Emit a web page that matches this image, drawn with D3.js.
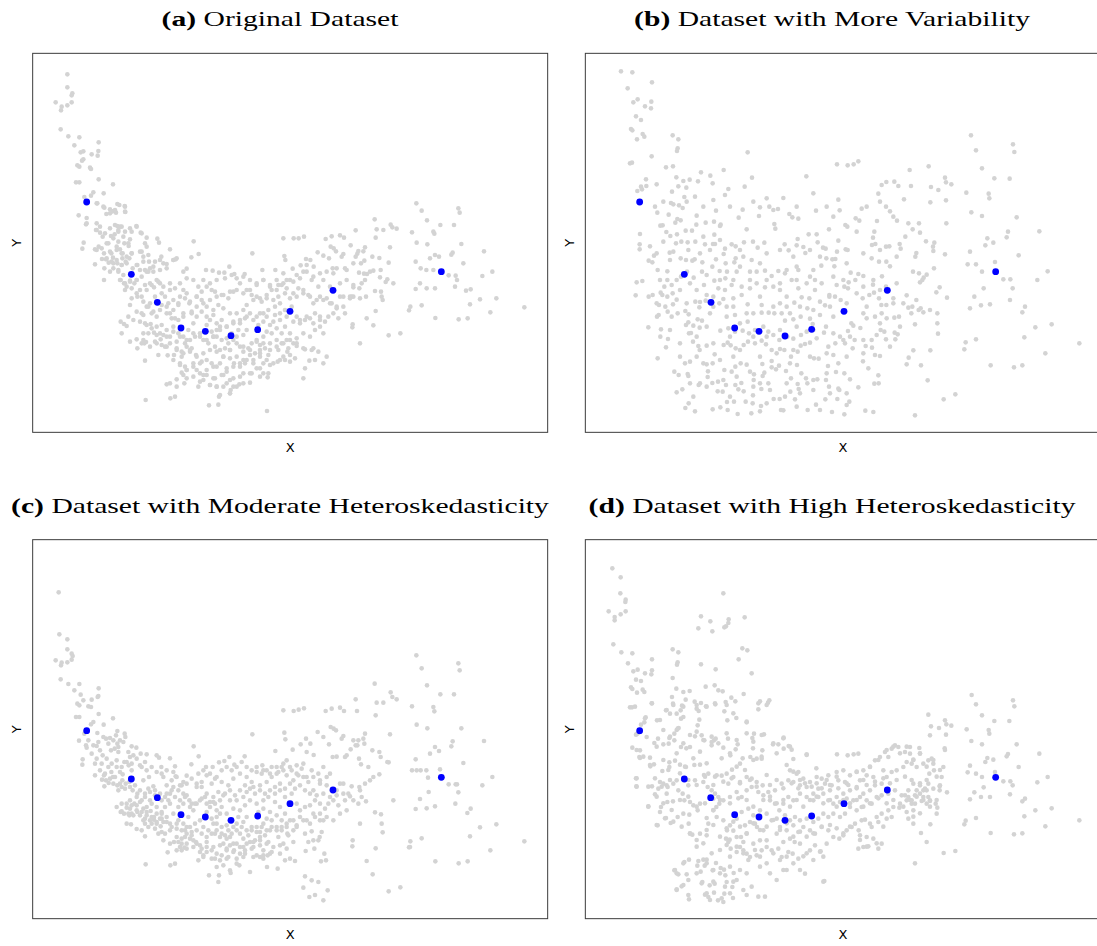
<!DOCTYPE html>
<html>
<head>
<meta charset="utf-8">
<script src="https://cdn.jsdelivr.net/npm/d3@7"></script>
<style>
  body { margin: 0; background: #fff; }
  svg { display: block; }
</style>
</head>
<body>
<svg id="chart" width="1097" height="946"></svg>
<script>
// Panel titles: bold tag + description
const titleTags = ["(a)", "(b)", "(c)", "(d)"];
const titleTexts = ["Original Dataset", "Dataset with More Variability",
  "Dataset with Moderate Heteroskedasticity", "Dataset with High Heteroskedasticity"];
const axisLabels = ["X", "Y"];

// Observations per dataset as [x, y]; y grows downward on the plotted axis
const grayA = [[112,73],[112,112],[127,130],[125,136],[77,157],[95,170],[112,166],[125,157],[93,181],[92,238],[115,259],[148,262],[206,277],[133,286],[205,303],[160,304],[152,307],[185,313],[203,317],[160,328],[156,332],[142,346],[148,350],[180,353],[183,357],[206,388],[138,397],[148,397],[249,403],[221,430],[190,427],[183,437],[163,441],[202,460],[223,473],[262,462],[284,468],[146,496],[170,504],[168,523],[200,520],[286,486],[229,492],[258,488],[248,484],[240,478],[270,530],[262,528],[319,528],[305,545],[332,548],[265,545],[198,540],[210,548],[218,560],[243,558],[254,553],[300,568],[350,563],[382,566],[387,578],[345,580],[491,574],[161,578],[157,596],[206,590],[195,598],[235,580],[283,580],[296,588],[260,590],[270,598],[278,610],[330,605],[305,610],[222,610],[244,610],[249,623],[216,627],[228,628],[236,638],[195,643],[223,655],[240,665],[222,690],[250,640],[262,640],[277,625],[287,635],[275,645],[298,625],[265,660],[272,690],[282,700],[290,710],[300,692],[308,655],[322,645],[340,620],[357,635],[330,660],[320,690],[313,700],[345,660],[355,665],[370,650],[394,620],[420,598],[400,640],[410,642],[430,630],[437,628],[484,622],[506,612],[470,656],[460,665],[528,660],[548,662],[567,668],[583,668],[598,650],[613,672],[644,672],[667,610],[697,660],[736,660],[760,565],[791,565],[806,565],[822,560],[763,618],[766,630],[788,656],[812,646],[828,627],[830,645],[841,630],[851,650],[863,607],[880,617],[887,567],[905,559],[930,556],[942,563],[977,541],[1034,508],[1040,538],[1060,540],[1082,524],[1087,532],[1100,536],[1159,460],[1175,482],[1191,511],[1210,545],[1213,551],[1231,525],[1272,525],[1285,475],[1289,488],[1146,547],[1160,578],[1192,583],[1037,563],[1080,592],[1048,624],[1027,620],[1076,638],[1005,592],[985,603],[982,611],[962,586],[940,612],[935,620],[911,595],[902,590],[918,604],[897,625],[920,655],[908,655],[945,655],[950,660],[970,640],[977,620],[993,640],[1000,604],[1003,632],[987,668],[1002,671],[1011,672],[1020,665],[1030,662],[1052,660],[1050,682],[1072,688],[1067,696],[1090,700],[1005,690],[995,700],[988,715],[970,712],[965,740],[960,745],[990,745],[1008,740],[1035,723],[1037,783],[1053,725],[1055,740],[1058,750],[1010,805],[1030,826],[968,823],[967,832],[990,880],[1076,856],[1111,850],[1141,770],[1137,781],[1157,717],[1157,635],[1172,655],[1189,660],[1170,700],[1190,715],[1215,715],[1200,625],[1215,615],[1227,620],[1210,660],[1256,676],[1268,608],[1264,614],[1294,582],[1300,640],[1277,677],[1281,690],[1275,710],[1308,722],[1322,718],[1320,763],[1350,748],[1357,678],[1387,665],[1362,604],[1381,787],[1399,745],[1313,805],[1286,808],[1216,804],[1175,766],[1483,772],
[272,815],[282,822],[275,850],[290,828],[300,875],[320,868],[322,895],[335,880],[343,880],[348,876],[345,932],[347,1050],[385,915],[413,916],[410,1003],[421,1045],[435,1040],[440,988],[463,1000],[470,985],[455,968],[470,960],[500,960],[510,970],[505,1010],[540,1005],[537,1066],[565,1064],[567,1040],[600,1030],[602,1020],[628,1003],[660,998],[711,1083],[713,982],[700,970],[690,955],[720,945],[743,935],[765,930],[780,935],[795,925],[820,985],[825,955],[838,932],[855,930],[865,905],[880,940],[890,920],[845,900],[825,898],[800,888],[772,905],[760,920],[745,900],[715,915],[690,910],[670,930],[645,940],[630,950],[612,940],[600,925],[580,920],[560,950],[545,940],[530,930],[515,935],[498,915],[480,905],[455,920],[440,900],[432,915],[420,880],[405,890],[392,868],[380,855],[372,848],[362,822],[350,825],[335,790],[320,785],[300,765],[305,745],[322,740],[330,720],[345,705],[360,700],[372,712],[380,690],[390,700],[395,730],[405,740],[420,720],[415,760],[410,790],[425,805],[430,780],[445,760],[450,740],[460,720],[470,730],[478,760],[485,790],[490,820],[475,840],[460,860],[445,850],[430,830],[410,840],[400,855],[395,825],[380,800],[365,790],[350,770],[340,795],[360,760],[375,740],[395,765],[420,860],[440,875],[465,880],[480,870],[495,860],[510,850],[520,870],[535,880],[550,860],[555,890],[570,900],[585,895],[595,880],[610,870],[620,860],[630,890],[640,905],[655,895],[665,880],[680,870],[690,885],[700,860],[710,845],[725,850],[740,835],[755,850],[765,830],[780,850],[770,870],[755,880],[740,870],[720,880],[705,895],[690,900],[675,910],[660,915],[640,930],[620,920],[600,900],[575,870],[560,860],[545,845],[530,825],[540,810],[560,820],[575,810],[590,830],[610,815],[630,820],[645,805],[660,790],[680,800],[700,790],[715,780],[735,770],[750,760],[765,780],[785,770],[800,800],[810,820],[825,810],[840,805],[855,790],[870,800],[885,815],[895,800],[910,790],[920,775],[905,760],[890,745],[870,740],[850,760],[835,735],[820,720],[805,715],[790,730],[770,715],[760,700],[745,705],[725,720],[710,735],[690,745],[670,750],[650,765],[640,780],[620,790],[600,790],[580,775],[565,765],[550,780],[530,770],[515,750],[500,740],[505,710],[520,690],[540,700],[555,725],[575,735],[595,745],[610,725],[630,700],[650,720],[665,735],[680,705],[700,690],[720,710],[740,690],[760,670],[780,690],[800,675],[820,665],[845,690],[865,710],[880,690],[900,710],[930,740],[940,770],[945,790],[925,805],[880,850],[870,830],[855,840],[840,860],[820,850],[800,865],[790,880],[775,895],[590,965],[575,975],[555,985],[530,975],[520,990],[590,1000],[610,985],[640,970],[665,970],[680,955],[700,940],[620,1010],[580,1010],[560,1010],[450,940],[465,950],[490,940],[485,895],[470,890],[455,905],[395,885],[375,875],[340,850],[355,850],[310,810],[295,800],[330,815],[345,820],[365,835],[445,810],[460,800],[500,800],[515,785],[530,800],[550,795],[735,795],[750,810],[720,825],[700,815],[685,825],[650,840],[640,855],[625,840],[605,850],[590,865],[560,840],[570,830],
[200,460],[220,470],[240,490],[255,480],[268,465],[285,470],[285,485],[170,520],[200,540],[210,530],[225,550],[240,535],[255,525],[265,540],[275,530],[285,545],[300,535],[320,530],[335,550],[250,565],[265,575],[280,560],[295,580],[230,580],[215,595],[200,600],[240,605],[260,600],[275,610],[290,620],[305,610],[335,605],[350,590],[355,615],[230,625],[245,635],[260,630],[275,645],[290,640],[320,645],[340,635],[360,655],[375,635],[390,630],[250,655],[265,665],[280,675],[270,690],[285,700],[300,695],[320,690],[335,680],[350,665],[370,665],[390,660],[410,655],[430,630],[440,625],[285,720],[305,715],[320,730],[335,740],[350,720],[365,705],[385,695],[400,710],[420,700],[435,715],[450,700],[470,685],[490,690],[340,755],[355,770],[370,785],[390,780],[410,770],[430,750],[445,765],[465,745],[480,755],[500,740],[515,725],[530,710],[545,720],[560,690],[585,685],[605,675],[620,685],[640,680],[660,690],[680,700],[700,690],[720,705],[740,720],[755,705],[770,690],[790,695],[810,685],[830,665],[850,680],[870,670],[890,665],[910,670],[930,700],[950,690],[970,705],[970,740],[420,790],[435,805],[460,790],[485,785],[500,770],[520,760],[540,750],[560,740],[580,735],[600,725],[620,720],[640,730],[660,720],[680,740],[695,755],[710,745],[730,750],[745,740],[765,730],[780,745],[800,740],[820,730],[840,740],[860,750],[880,750],[900,760],[920,770],[940,740],[960,740],[380,830],[390,850],[410,860],[430,845],[450,860],[470,870],[490,850],[510,860],[530,870],[550,860],[570,840],[590,830],[610,820],[630,810],[650,800],[670,810],[690,790],[710,800],[730,815],[750,790],[770,800],[790,815],[810,810],[830,800],[850,820],[870,810],[340,870],[360,890],[380,880],[410,890],[440,895],[460,910],[480,900],[500,920],[520,910],[540,900],[560,905],[580,920],[600,900],[620,880],[640,890],[660,900],[680,875],[700,880],[720,900],[740,890],[760,880],[780,870],[800,880],[820,895],[850,895],[430,930],[450,945],[470,960],[490,950],[510,940],[530,960],[550,950],[570,940],[590,955],[610,950],[630,940],[650,930],[670,940],[690,920],[710,930],[730,940],[750,930],[780,915],[460,975],[490,980],[520,975],[550,985],[580,975],[600,990],[630,980],[660,970],[690,980],[715,970],[420,1000],[440,1010],[510,995],[540,1005],[560,1010],[610,1010],[640,1000],[570,1035],[600,1030]];

const grayB = [[123,64],[157,67],[216,97],[143,115],[160,157],[173,148],[195,169],[214,155],[213,175],[168,199],[183,210],[153,237],[157,241],[188,252],[193,260],[171,268],[278,256],[295,268],[293,295],[291,303],[503,307],[215,319],[150,340],[156,338],[258,352],[279,349],[198,388],[183,410],[199,408],[186,418],[172,423],[230,403],[289,382],[310,393],[329,389],[354,394],[363,367],[391,377],[398,400],[431,360],[516,383],[679,379],[771,343],[803,346],[821,343],[835,334],[989,360],[1046,349],[1173,256],[1188,301],[1299,283],[1303,306],[1206,355],[1243,385],[1289,386],[1159,428],[1226,431],[1228,445],[1174,487],[1206,498],[1310,502],[1378,544],[1284,545],[1280,562],[1222,565],[1240,578],[1216,586],[1170,605],[1163,643],[1188,643],[1245,636],[1206,665],[1316,616],[1403,664],[1372,690],[1270,688],[1291,688],[1298,715],[1211,715],[1183,740],[1230,763],[1203,766],[1170,775],[1290,750],[1335,770],[1327,787],[1366,832],[1415,823],[1333,862],[1396,910],[1498,880],[1188,868],[1157,877],[1153,898],[1232,946],[1302,952],[1327,946],[1126,1033],[1091,1048],[1043,991],[1023,946],[980,943],[986,923],[1000,901],[1051,901],[1005,1096],[1099,520],[1095,383],[1098,397],[1114,403],[1075,420],[1053,411],[1051,457],[1098,451],[1095,613],[1062,655],[1060,603],[1059,590],[1063,578],[1038,574],[1009,609],[1006,620],[999,665],[1017,670],[1020,697],[1040,674],[1031,683],[1027,690],[1079,712],[1069,727],[1101,743],[1050,780],[1072,790],[1072,820],[1074,851],[1022,775],[1016,780],[1030,787],[1009,750],[997,770],[985,773],[994,790],[1005,823],[980,736],[970,760],[1017,520],[1020,548],[985,520],[998,538],[993,408],[972,448],[955,408],[943,395],[919,396],[905,405],[895,431],[930,484],[918,470],[951,512],[940,500],[928,589],[918,590],[962,596],[976,560],[959,582],[891,513],[883,545],[879,563],[886,582],[876,585],[845,476],[838,512],[827,505],[830,545],[802,530],[796,525],[775,449],[779,481],[747,538],[775,572],[771,605],[797,598],[803,600],[766,627],[739,625],[757,628],[763,649],[724,647],[729,593],[737,596],[710,553],[686,553],[713,577],[708,482],[653,567],[670,591],[676,609],[628,492],[637,502],[655,506],[610,444],[568,470],[580,480],[594,477],[540,472],[537,498],[488,479],[476,503],[500,538],[494,410],[445,417],[435,435],[408,482],[422,524],[420,528],[402,515],[377,518],[350,497],[349,524],[336,542],[317,542],[302,511],[286,518],[292,507],[266,494],[280,463],[273,459],[297,466],[308,474],[313,441],[319,413],[295,409],[276,425],[248,526],[241,527],[232,488],[259,546],[271,558],[291,553],[304,575],[323,577],[346,575],[370,560],[375,583],[403,554],[399,582],[405,582],[435,596],[455,583],[467,589],[492,577],[519,575],[533,593],[553,578],[583,522],[586,536],[614,583],[626,601],[650,586],[180,552],[179,583],[179,598],[210,589],[222,617],[206,632],[217,637],[233,660],[262,664],[269,608],[270,630],[280,605],[288,580],[302,625],[318,630],[344,628],[337,632],[367,637],[366,665],[397,650],[408,628],[431,612],[463,637],[467,625],[437,640],[419,663],[441,665],[470,665],[436,685],[403,692],[380,675],[372,705],[341,683],[330,700],[321,665],[303,680],[290,690],[275,705],[262,690],[253,710],[242,728],[218,735],[206,740],[187,693],[170,697],[167,736],[205,832],[233,925],[258,892],[264,867],[241,860],[243,838],[231,800],[236,795],[256,770],[263,785],[237,765],[247,735],[262,740],[278,730],[290,749],[293,790],[279,763],[316,783],[326,793],[325,817],[340,827],[318,825],[353,808],[366,812],[358,772],[360,756],[346,755],[377,752],[390,790],[380,830],[359,833],[333,849],[327,850],[339,875],[355,888],[359,900],[380,887],[404,913],[398,940],[380,943],[370,940],[384,964],[383,981],[356,1005],[360,1000],[397,999],[413,1024],[421,1072],[398,1078],[345,1084],[316,1074],[326,1060],[307,1018],[290,1027],[283,965],[296,975],[323,972],[315,940],[330,935],[325,978],[441,1056],[443,1080],[473,1092],[462,1055],[497,1055],[514,1090],[540,1084],[543,1068],[518,1060],[491,1024],[519,1036],[544,1017],[540,1000],[565,1000],[581,1047],[603,1080],[610,1081],[599,1047],[615,1040],[631,1025],[645,1048],[683,1080],[708,1064],[736,1048],[756,1086],[793,1093],[800,1065],[808,1055],[772,1047],[778,1020],[775,1016],[747,1010],[738,990],[712,988],[682,1000],[656,1017],[653,1002],[633,985],[618,963],[588,958],[575,952],[553,968],[548,978],[521,990],[484,999],[475,1018],[466,1005],[438,1005],[428,1025],[414,995],[433,960],[455,965],[466,950],[482,940],[500,944],[510,965],[522,973],[547,942],[575,933],[597,947],[630,940],[651,945],[664,970],[678,985],[700,990],[740,970],[768,966],[793,970],[810,988],[835,1012],[856,1082],[880,1086],[896,1000],[883,1001],[895,976],[865,955],[849,934],[857,888],[876,893],[885,915],[900,918],[875,870],[890,855],[902,840],[913,845],[944,848],[953,853],[946,868],[918,868],[860,805],[885,800],[905,790],[920,805],[943,803],[957,800],[940,760],[940,745],[919,765],[904,765],[897,745],[882,728],[868,735],[860,770],[848,745],[830,730],[826,690],[806,697],[793,710],[804,715],[812,668],[835,672],[850,678],[875,625],[897,635],[919,635],[930,649],[880,690],[879,704],[906,679],[918,710],[841,834],[820,827],[814,820],[804,843],[790,870],[780,860],[766,880],[745,890],[760,915],[795,880],[818,895],[824,870],[775,940],[744,948],[716,926],[702,925],[690,878],[675,882],[662,887],[653,905],[633,920],[613,900],[600,897],[575,900],[558,883],[545,872],[525,880],[504,875],[491,885],[480,900],[467,895],[452,886],[443,878],[431,885],[421,842],[445,835],[465,845],[480,820],[503,815],[520,790],[545,788],[566,788],[580,770],[600,760],[583,790],[605,790],[630,790],[615,812],[640,808],[662,800],[682,775],[690,806],[698,822],[720,795],[720,755],[735,766],[748,740],[765,740],[782,750],[760,800],[738,830],[732,848],[710,865],[680,845],[663,855],[640,866],[622,860],[598,870],[580,855],[565,845],[550,830],[525,840],[507,850],[488,842],[465,795],[440,770],[430,747],[460,745],[485,735],[510,715],[530,700],[555,712],[580,710],[600,720],[620,740],[643,758],[665,742],[688,745],[705,720],[680,700],[655,715],[635,690],[615,670],[595,663],[575,678],[555,662],[530,665],[510,690],[485,710],[455,705],[435,720],[415,715],[400,740],[380,735],[418,760],[460,770],[503,763],[545,765],[620,660],[650,650],[690,680],[705,690],[725,700],[748,735],[770,705],[655,660],[540,640],[515,630],[490,620],[480,650],
[225,470],[250,455],[320,455],[345,440],[370,470],[400,450],[450,470],[520,455],[560,445],[650,470],[700,430],[740,470],[760,500],[860,470],[900,455],[250,575],[230,610],[325,600],[360,610],[390,600],[420,570],[480,600],[560,610],[600,600],[640,620],[690,600],[720,620],[800,640],[850,610],[900,600],[950,620],[240,690],[300,720],[350,720],[420,690],[460,690],[510,665],[560,690],[600,700],[650,690],[700,660],[760,680],[790,690],[850,710],[900,720],[950,700],[230,760],[275,800],[320,760],[400,770],[440,800],[500,790],[540,740],[620,770],[660,770],[700,780],[750,770],[800,760],[850,790],[900,820],[960,830],[270,840],[300,880],[350,860],[400,880],[450,860],[520,860],[560,860],[600,840],[650,830],[700,840],[760,850],[810,860],[850,870],[930,890],[300,920],[350,920],[420,930],[460,920],[540,920],[590,910],[640,900],[690,920],[740,910],[800,920],[850,910],[330,1000],[380,1010],[430,990],[470,980],[520,1010],[570,1020],[620,1000],[660,1030],[700,1020],[750,1030],[800,1030],[340,1040],[450,1040],[560,1060],[650,1070],[720,1080]];

const grayC = [[86,166],[88,292],[112,307],[112,337],[125,350],[128,357],[77,370],[95,377],[93,385],[112,376],[125,368],[92,427],[115,441],[148,441],[206,454],[133,460],[205,477],[152,473],[160,490],[185,488],[203,480],[142,500],[148,505],[175,508],[183,510],[206,531],[138,540],[148,540],[249,544],[221,563],[190,555],[183,562],[163,590],[147,611],[202,588],[228,605],[262,582],[284,590],[286,600],[258,595],[240,603],[168,625],[170,632],[158,667],[157,683],[195,680],[200,627],[270,610],[262,620],[305,628],[319,632],[332,650],[265,645],[210,640],[218,655],[243,640],[254,635],[300,660],[350,652],[380,655],[387,662],[345,675],[491,628],[506,658],[420,664],[435,688],[195,715],[223,748],[235,690],[283,675],[296,685],[260,690],[270,705],[278,712],[330,685],[305,700],[222,715],[244,705],[249,720],[216,728],[228,730],[236,738],[250,740],[262,745],[277,730],[287,740],[275,750],[298,735],[265,760],[272,825],[282,830],[290,812],[300,790],[308,760],[322,770],[340,730],[357,720],[330,795],[320,780],[313,800],[345,780],[355,755],[370,748],[394,690],[400,720],[410,745],[430,705],[437,718],[484,682],[470,716],[460,735],[528,690],[548,690],[567,676],[583,672],[598,660],[613,683],[644,658],[667,592],[697,685],[736,642],[760,520],[791,522],[806,518],[822,514],[763,587],[766,607],[788,638],[812,622],[828,605],[830,645],[841,620],[851,654],[863,585],[880,600],[887,522],[905,515],[930,512],[942,522],[981,522],[977,487],[1034,440],[1040,497],[1060,497],[1082,466],[1087,480],[1100,487],[1159,355],[1175,394],[1191,445],[1210,510],[1213,523],[1231,472],[1272,472],[1285,379],[1289,400],[1146,508],[1160,563],[1192,574],[1037,535],[1080,592],[1048,645],[1027,640],[1076,676],[1005,590],[985,610],[982,625],[962,637],[940,597],[935,605],[911,575],[902,570],[918,580],[897,622],[920,659],[908,660],[945,660],[950,655],[970,610],[977,625],[993,682],[1000,605],[1003,620],[987,665],[1015,690],[1020,730],[1030,720],[1048,712],[1052,660],[1072,675],[1090,790],[1005,740],[995,780],[988,750],[965,748],[960,778],[990,760],[1008,793],[1035,826],[1037,934],[1053,832],[1055,860],[1058,886],[1010,972],[1028,1012],[968,910],[967,928],[990,860],[1076,1063],[1111,1051],[1141,913],[1137,931],[1157,816],[1157,667],[1172,700],[1189,700],[1170,786],[1190,814],[1215,808],[1200,650],[1215,630],[1227,642],[1194,722],[1196,765],[1256,742],[1268,613],[1264,628],[1294,574],[1300,678],[1277,742],[1281,742],[1276,800],[1285,766],[1312,828],[1322,815],[1320,898],[1350,871],[1357,745],[1387,720],[1362,612],[1381,940],[1399,862],[1313,973],[1286,979],[1216,973],[1175,904],[1483,913],[1146,700],[1160,700],[1140,930],[1230,697],
[275,823],[298,835],[290,860],[303,862],[320,876],[335,880],[345,898],[347,982],[385,890],[413,946],[421,985],[435,980],[440,940],[463,932],[455,940],[470,935],[500,920],[510,945],[505,970],[537,1015],[565,1035],[567,1015],[600,1000],[602,1008],[628,985],[660,1005],[711,990],[713,955],[700,965],[690,960],[720,950],[743,995],[765,970],[780,965],[795,972],[820,1052],[825,1018],[838,1080],[845,1030],[855,1074],[865,1035],[880,1090],[893,1060],[873,973],[888,970],[853,935],[827,942],[835,915],[850,910],[869,900],[875,885],[883,950],[865,910],[845,883],[825,890],[800,870],[772,890],[760,920],[745,900],[715,915],[690,910],[670,930],[645,940],[630,950],[612,940],[600,925],[580,920],[560,950],[545,940],[530,930],[515,935],[498,915],[480,905],[455,920],[440,900],[432,915],[420,880],[405,890],[392,868],[380,855],[372,848],[362,822],[350,825],[335,790],[320,805],[300,815],[305,830],[322,825],[345,845],[360,850],[372,840],[380,860],[390,845],[395,830],[405,810],[420,800],[415,790],[410,770],[425,760],[430,750],[445,760],[450,745],[460,770],[470,775],[478,790],[485,800],[490,820],[475,840],[460,860],[445,850],[430,830],[410,840],[400,855],[395,825],[380,810],[365,800],[350,810],[340,815],[360,790],[375,775],[395,790],[420,860],[440,875],[465,880],[480,870],[495,860],[510,850],[520,870],[535,880],[550,860],[555,890],[570,900],[585,895],[595,880],[610,870],[620,860],[630,890],[640,905],[655,895],[665,880],[680,870],[690,885],[700,860],[710,845],[725,850],[740,835],[755,850],[765,830],[780,850],[770,870],[755,880],[740,870],[720,880],[705,895],[690,900],[675,910],[660,915],[640,930],[620,920],[600,900],[575,870],[560,860],[545,845],[530,825],[540,810],[560,820],[575,810],[590,830],[610,815],[630,820],[645,805],[660,790],[680,800],[700,790],[715,780],[735,770],[750,760],[765,780],[785,770],[800,800],[810,820],[825,810],[840,805],[855,790],[870,800],[885,815],[895,800],[910,790],[920,775],[905,760],[890,745],[870,740],[850,760],[835,735],[820,720],[805,715],[790,730],[770,715],[760,700],[745,705],[725,720],[710,735],[690,745],[670,750],[650,765],[640,780],[620,790],[600,790],[580,775],[565,765],[550,780],[530,770],[515,750],[500,740],[505,710],[520,700],[540,710],[555,725],[575,735],[595,745],[610,725],[630,710],[650,720],[665,735],[680,705],[700,700],[720,710],[740,690],[760,680],[780,690],[800,685],[820,680],[845,700],[865,710],[880,690],[900,710],[930,740],[940,770],[945,790],[925,805],[880,850],[870,830],[855,840],[840,860],[820,850],[800,865],[790,880],[775,895],[590,965],[575,955],[555,965],[530,945],[520,960],[590,940],[610,945],[640,960],[665,935],[680,955],[700,940],[620,980],[580,985],[560,990],[450,930],[465,900],[490,910],[485,895],[470,890],[455,905],[395,885],[375,875],[340,850],[355,870],[310,835],[295,830],[330,835],[345,860],[365,860],[445,810],[460,800],[500,800],[515,785],[530,800],[550,795],[735,795],[750,810],[720,825],[700,815],[685,825],[650,840],[640,855],[625,840],[605,850],[590,865],[560,840],[570,830],
[175,610],[190,625],[205,615],[220,600],[235,620],[250,610],[265,630],[280,615],[295,645],[310,655],[185,650],[200,665],[215,680],[230,665],[245,680],[260,670],[275,690],[290,675],[305,680],[320,665],[335,690],[350,700],[365,690],[380,705],[395,710],[410,700],[425,730],[440,720],[455,745],[470,740],[485,725],[500,750],[515,735],[530,715],[545,740],[560,720],[575,700],[590,690],[605,700],[620,690],[635,675],[650,690],[665,700],[680,690],[695,710],[710,700],[725,690],[740,710],[755,690],[770,670],[785,700],[800,710],[815,695],[830,720],[850,720],[870,730],[890,720],[210,700],[225,710],[240,725],[255,720],[270,740],[285,755],[300,750],[315,745],[330,760],[345,770],[360,765],[375,760],[390,770],[405,780],[420,770],[435,780],[450,790],[465,780],[480,810],[495,800],[510,790],[525,780],[540,795],[555,800],[570,790],[585,770],[600,760],[615,775],[630,760],[645,745],[660,755],[675,770],[690,760],[705,770],[720,760],[735,750],[750,740],[765,755],[780,740],[795,755],[810,745],[825,760],[840,770],[860,775],[880,770],[900,780],[920,760],[940,740],[955,770],[970,790],[985,800],[260,810],[275,800],[290,800],[305,805],[320,820],[335,825],[350,835],[365,840],[380,830],[395,845],[410,855],[425,870],[440,860],[455,880],[470,870],[485,885],[500,880],[515,890],[530,900],[545,890],[560,880],[575,890],[590,905],[605,890],[620,880],[635,870],[650,880],[665,870],[680,885],[695,870],[710,880],[725,870],[740,880],[755,870],[770,860],[790,850],[810,840],[830,850],[850,830],[870,850],[890,840],[910,850],[930,830],[950,820],[400,910],[420,920],[445,915],[470,920],[490,930],[510,925],[530,915],[550,930],[570,925],[590,935],[610,920],[630,930],[650,920],[670,915],[690,925],[710,920],[730,930],[750,925],[770,935],[790,915],[520,955],[545,965],[570,970],[595,960],[620,965],[645,950],[670,960],[700,955],[725,945],[750,950]];

const grayD = [[97,94],[122,121],[121,169],[137,188],[136,195],[86,223],[104,240],[104,250],[122,232],[137,223],[430,169],[363,238],[391,253],[446,247],[445,258],[438,268],[433,271],[355,274],[397,283],[494,241],[100,322],[124,346],[157,349],[144,379],[216,367],[160,403],[173,398],[195,409],[216,400],[214,412],[168,428],[183,432],[153,451],[157,456],[188,458],[193,465],[171,467],[278,337],[295,346],[293,376],[291,383],[363,382],[487,334],[502,340],[476,367],[407,397],[515,409],[278,423],[289,455],[310,465],[329,462],[317,488],[306,506],[276,480],[279,500],[216,499],[150,511],[156,511],[258,520],[270,530],[290,530],[302,520],[303,545],[310,540],[350,515],[344,494],[363,498],[378,508],[356,522],[358,548],[353,565],[404,445],[415,460],[428,463],[377,449],[406,502],[437,495],[433,523],[442,550],[469,543],[454,482],[466,493],[491,471],[500,556],[540,493],[535,517],[568,490],[564,497],[522,590],[552,592],[579,622],[595,622],[611,602],[611,635],[626,627],[635,638],[640,666],[655,705],[680,652],[709,694],[771,652],[803,655],[821,652],[835,650],[231,550],[197,541],[193,556],[183,563],[200,600],[172,590],[168,593],[180,640],[210,662],[211,688],[222,682],[234,605],[250,622],[266,620],[268,603],[283,590],[293,575],[296,573],[283,610],[303,630],[319,634],[330,630],[345,598],[365,595],[373,610],[395,615],[395,625],[402,610],[407,605],[430,632],[451,655],[444,605],[467,637],[473,622],[517,603],[519,634],[547,640],[545,665],[530,665],[511,660],[488,664],[480,680],[456,698],[440,710],[425,716],[410,715],[385,710],[372,714],[360,683],[343,684],[318,690],[300,683],[285,671],[268,676],[268,690],[247,702],[240,735],[250,740],[235,755],[225,772],[216,748],[205,808],[233,865],[272,858],[258,843],[240,825],[243,810],[262,795],[279,793],[260,770],[263,750],[280,740],[290,730],[295,760],[308,770],[313,790],[330,795],[340,805],[360,800],[353,820],[328,833],[310,830],[293,840],[326,860],[330,890],[337,893],[360,890],[380,843],[385,860],[380,895],[400,820],[409,810],[418,800],[405,770],[395,760],[383,750],[370,735],[345,730],[325,745],[175,588],[180,663],[169,748],[168,724],[157,632],[178,660],[223,618],[260,745],
[283,1000],[290,1057],[305,1048],[295,1012],[313,975],[327,968],[320,1012],[327,1087],[352,986],[362,1004],[370,968],[380,968],[374,986],[355,972],[398,1000],[408,978],[367,1035],[375,1073],[385,1080],[389,1045],[404,1040],[402,1067],[414,1090],[430,1095],[433,1070],[440,1035],[436,1015],[461,1008],[457,1050],[459,1083],[432,998],[422,993],[441,880],[438,905],[449,908],[460,881],[470,900],[495,865],[500,890],[483,900],[510,855],[525,860],[531,870],[550,880],[560,910],[540,910],[520,920],[490,915],[480,930],[490,940],[470,945],[452,935],[445,915],[500,950],[510,960],[530,955],[545,940],[560,930],[575,940],[595,935],[605,960],[625,945],[638,950],[655,965],[670,958],[690,940],[705,925],[722,943],[740,920],[733,1032],[675,1010],[660,920],[644,915],[630,905],[610,915],[590,890],[600,870],[620,880],[640,865],[655,885],[670,870],[690,880],[705,890],[725,870],[745,880],[760,900],[778,905],[790,895],[800,880],[815,870],[836,880],[835,935],[850,930],[865,928],[880,905],[895,935],[905,920],[860,900],[840,895],[825,860],[845,850],[870,860],[890,840],[905,830],[925,820],[940,810],[960,800],[980,790],[995,800],[1005,775],[1020,770],[1030,760],[1045,780],[1050,790],[1067,800],[1072,812],[1070,830],[1005,979],[1051,862],[1040,915],[1023,888],[1000,860],[985,845],[980,825],[958,812],[935,840],[920,845],[895,855],[875,870],[855,848],[845,810],[830,820],[810,810],[795,830],[780,840],[760,830],[745,840],[730,830],[715,845],[700,855],[680,845],[660,850],[645,840],[630,850],[615,835],[598,820],[585,800],[570,790],[550,775],[535,765],[515,750],[500,760],[485,780],[470,765],[450,780],[430,790],[415,780],[400,785],[410,840],[430,850],[450,865],[470,845],[485,825],[505,815],[520,835],[540,820],[560,830],[575,850],[590,845],[610,800],[625,780],[640,790],[660,770],[680,780],[700,790],[715,780],[730,770],[745,790],[760,800],[780,795],[800,785],[820,790],[840,780],[860,790],[875,800],[890,780],[905,775],[925,770],[945,760],[965,775],[985,760],[1000,740],[1020,745],[1035,755],[1045,740],[1060,755],[1080,745],[1085,720],[1062,700],[1060,680],[1055,665],[1045,670],[1030,680],[1010,690],[995,680],[980,675],[970,690],[950,700],[935,705],[920,720],[905,740],[885,745],[870,760],[850,770],[830,750],[810,760],[790,770],[770,780],[750,760],[735,740],[715,755],[700,770],[680,750],[660,745],[640,735],[625,730],[605,740],[585,760],[565,765],[548,745],[530,735],[515,725],[500,720],[480,735],[460,720],[445,740],[725,725],[745,715],[770,705],[790,700],[810,715],[830,705],[850,700],[870,690],[885,670],[900,660],[915,645],[935,635],[955,630],[975,645],[990,650],[1000,668],[1018,633],[1020,650],[990,630],[945,625],[925,660],[910,700],[880,720],[860,715],[840,730],[795,735],[775,730],[755,745],[710,720],[690,735],[670,725],[650,710],[630,700],[1045,533],[1053,568],[1050,595],[1077,573],[1095,550],[1099,562],[1114,566],[1098,593],[1094,634],[1090,690],[1079,748],[1101,766],[1048,710],[1040,760],[1050,792],[1040,800],[1030,780],[1005,800],[995,790],[1010,760],[1025,792],[985,780],[975,775],[1000,820],[1175,474],[1188,502],[1299,490],[1303,508],[1206,535],[1243,552],[1288,552],[1160,577],[1226,579],[1228,590],[1174,612],[1206,622],[1310,622],[1378,650],[1284,651],[1280,658],[1222,663],[1240,668],[1216,675],[1170,686],[1163,706],[1188,710],[1245,705],[1206,720],[1316,690],[1403,720],[1372,736],[1270,733],[1291,733],[1298,745],[1211,751],[1183,766],[1230,780],[1203,780],[1170,787],[1290,772],[1335,785],[1327,793],[1366,820],[1415,814],[1333,838],[1396,868],[1498,850],[1188,843],[1157,851],[1153,862],[1232,888],[1302,892],[1327,889],[1126,942],[1091,948],[1079,760],
[165,509],[195,544],[215,499],[240,549],[260,519],[280,504],[310,509],[350,504],[380,509],[405,499],[440,504],[460,529],[500,554],[535,499],[560,504],[250,579],[270,599],[290,579],[310,619],[330,594],[350,584],[370,609],[395,599],[415,619],[440,589],[470,609],[500,589],[520,614],[545,594],[580,619],[610,604],[630,629],[170,639],[190,659],[210,684],[230,629],[250,669],[265,699],[290,649],[315,689],[340,664],[360,644],[380,679],[405,719],[425,664],[450,649],[470,689],[495,699],[520,669],[545,659],[560,714],[590,649],[620,684],[640,704],[660,729],[680,654],[710,739],[740,729],[770,719],[800,739],[830,704],[850,729],[870,689],[895,669],[920,639],[940,629],[960,649],[980,629],[1000,669],[1020,649],[1040,689],[1060,669],[1080,699],[1095,639],[170,724],[170,749],[205,749],[225,724],[245,749],[270,729],[300,709],[325,729],[350,744],[375,719],[400,744],[430,734],[455,724],[480,739],[510,729],[530,749],[570,744],[590,729],[610,754],[635,739],[655,754],[675,739],[695,749],[725,754],[750,744],[775,754],[805,744],[830,754],[860,744],[885,734],[910,724],[930,739],[950,729],[975,719],[995,729],[1020,739],[1040,729],[1070,719],[205,809],[230,779],[250,799],[275,819],[300,789],[325,779],[350,809],[375,799],[400,819],[420,789],[450,799],[475,784],[500,789],[520,809],[550,789],[570,779],[590,799],[610,789],[630,809],[650,789],[670,809],[690,789],[710,779],[730,799],[750,789],[770,809],[790,789],[810,799],[830,789],[850,809],[870,799],[895,784],[920,799],[940,789],[970,809],[990,789],[1010,779],[1030,789],[1050,809],[1070,789],[230,864],[255,844],[280,854],[305,869],[330,889],[350,909],[380,879],[400,864],[420,899],[440,874],[460,854],[480,869],[500,889],[520,859],[540,879],[560,869],[580,849],[600,879],[620,859],[640,899],[660,884],[680,899],[700,889],[725,869],[750,864],[770,874],[790,889],[810,869],[840,909],[860,929],[890,919],[910,869],[1000,839],[1020,829],[350,929],[370,919],[395,949],[420,939],[440,924],[450,959],[470,929],[490,949],[505,969],[525,939],[540,959],[560,979],[580,949],[600,969],[620,959],[640,979],[660,999],[680,949],[700,969],[720,944],[730,1034],[730,959],[285,999],[290,1059],[310,979],[325,1029],[350,1009],[365,1039],[380,1069],[400,1034],[420,1009],[435,1049],[450,1069],[470,1029],[490,1059],[500,1009],[515,1049],[535,1079],[570,1009],[590,1029],[610,999],[620,999],[290,1009],[310,1044],[325,1074],[380,979],[400,999],[425,1084],[450,989],[460,1034],[480,999],[540,989],[555,1079],[500,1074],[390,1089]];

// Binned means of each dataset
const meansA = [[170,456],[304,673],[382,757],[453,834],[526,844],[603,857],[683,839],[780,784],[909,721],[1234,665]];
const meansB = [[179,456],[313,673],[393,757],[464,834],[537,844],[615,858],[695,838],[792,784],[922,721],[1247,665]];
const meansC = [[170,581],[304,726],[382,782],[453,833],[526,840],[603,850],[683,837],[780,800],[909,759],[1234,721]];
const meansD = [[179,581],[313,726],[392,782],[464,833],[537,840],[615,850],[695,837],[792,800],[922,759],[1247,721]];

// Axis limits for each panel (x: left..right, y: top..bottom)
const xLimits = [[8,1553],[16,1561],[8,1553],[16,1561]];
const yLimits = [[10,1147],[10,1147],[8,1145],[8,1145]];

// ---- layout ----
const W = 515, H = 379;
const panelOrigins = [[32.67,53.33],[585.33,53.33],[32.67,539.67],[585.33,539.67]];
const titleCenters = [[280,26],[832,26],[280,513],[832,513]];

const svg = d3.select("#chart");
const panels = [
  {pts: grayA, means: meansA},
  {pts: grayB, means: meansB},
  {pts: grayC, means: meansC},
  {pts: grayD, means: meansD}
];

// Titles: bold tag followed by regular text, serif face
const titles = svg.append("g").attr("class", "titles");
const titleNodes = panels.map((p, i) => {
  const t = titles.append("text")
    .attr("text-anchor", "middle")
    .attr("font-family", "'Liberation Serif', 'Times New Roman', serif")
    .attr("font-size", 20)
    .attr("fill", "#000");
  t.append("tspan").attr("font-weight", "bold").text(titleTags[i]);
  t.append("tspan").text(" " + titleTexts[i]);
  return t;
});
// widen the serif face so the longest title spans its panel like the original typesetting
const longest = titleNodes[2].node().getComputedTextLength();
const sx = 538 / longest;
titleNodes.forEach((t, i) => {
  t.attr("transform", `translate(${titleCenters[i][0]},${titleCenters[i][1]}) scale(${sx},1)`);
});

panels.forEach((p, i) => {
  const [ox, oy] = panelOrigins[i];
  const x = d3.scaleLinear().domain(xLimits[i]).range([0, W]);
  const y = d3.scaleLinear().domain(yLimits[i]).range([0, H]);
  const g = svg.append("g").attr("transform", `translate(${ox},${oy})`);

  g.append("g").selectAll("circle").data(p.pts).join("circle")
    .attr("cx", d => x(d[0])).attr("cy", d => y(d[1]))
    .attr("r", 2.3).attr("fill", "#d3d3d3");

  g.append("g").selectAll("circle").data(p.means).join("circle")
    .attr("cx", d => x(d[0])).attr("cy", d => y(d[1]))
    .attr("r", 3.4).attr("fill", "#0000ff");

  g.append("rect").attr("x", 0).attr("y", 0).attr("width", W).attr("height", H)
    .attr("fill", "none").attr("stroke", "#3c3c3c").attr("stroke-width", 1);

  g.append("text").attr("x", W / 2).attr("y", H + 20)
    .attr("text-anchor", "middle")
    .attr("font-family", "'DejaVu Sans', sans-serif").attr("font-size", 13)
    .text(axisLabels[0]);

  g.append("text")
    .attr("transform", `translate(${-11.5},${H / 2}) rotate(-90)`)
    .attr("text-anchor", "middle")
    .attr("font-family", "'DejaVu Sans', sans-serif").attr("font-size", 13)
    .text(axisLabels[1]);
});
</script>
</body>
</html>
